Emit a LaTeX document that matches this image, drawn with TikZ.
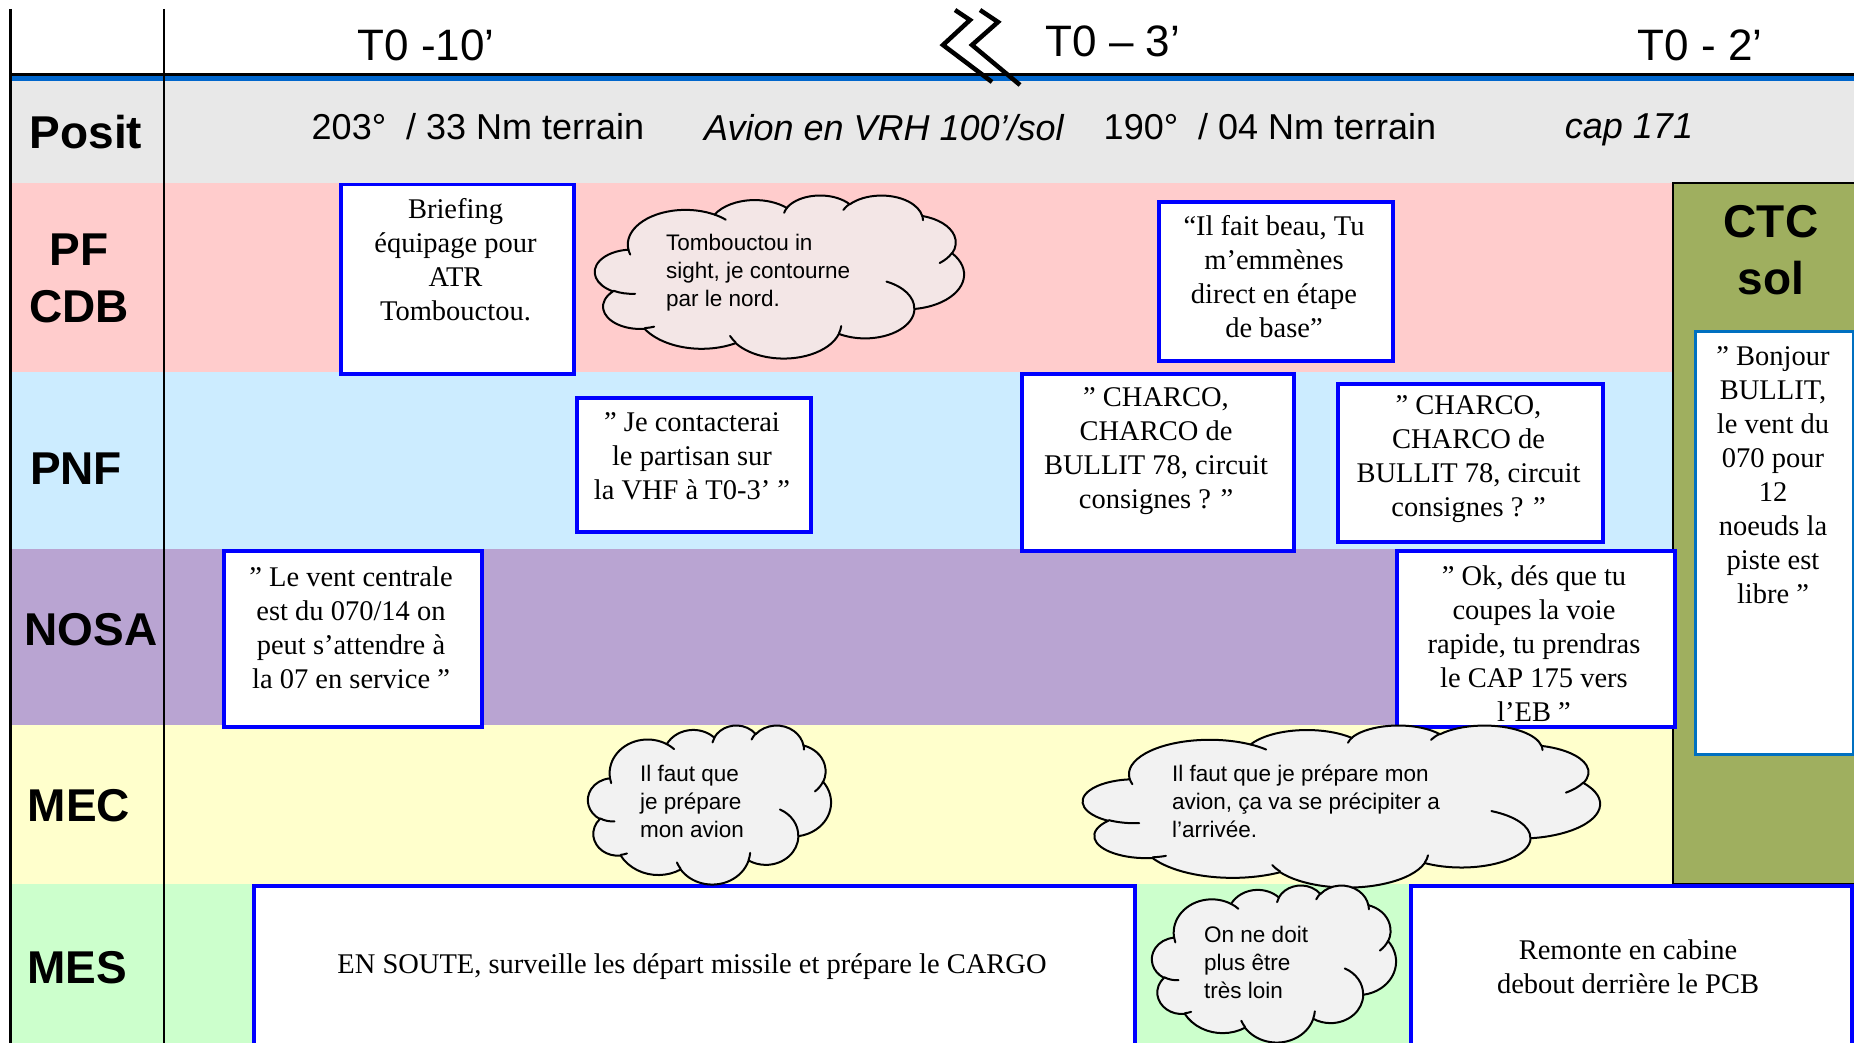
\documentclass[tikz,border=0pt]{standalone}
\usepackage{fontspec}
\setmainfont{Liberation Serif}
\newfontfamily\arial{Liberation Sans}
\definecolor{cPos}{RGB}{232,232,232}
\definecolor{cPF}{RGB}{255,204,204}
\definecolor{cPNF}{RGB}{204,236,255}
\definecolor{cNOSA}{RGB}{185,164,210}
\definecolor{cMEC}{RGB}{255,255,204}
\definecolor{cMES}{RGB}{204,255,204}
\definecolor{cCTC}{RGB}{159,175,95}
\definecolor{cBox}{RGB}{0,0,255}
\definecolor{cBox2}{RGB}{0,112,192}
\definecolor{cHdr}{RGB}{0,102,204}
\definecolor{cCloudP}{RGB}{243,230,230}
\definecolor{cCloudG}{RGB}{242,242,242}
% PowerPoint-like cloud: #1 left, #2 top, #3 width, #4 height, #5 fill, #6 name
\newcommand{\pptcloud}[6]{%
 \begin{scope}[shift={(#1,#2)}, xscale=#3/432, yscale=#4/432]
 \filldraw[fill=#5, draw=black, line width=2, line join=round] (39,143.7)
   arc[start angle=-187.746, delta angle=128.08, x radius=67.53, y radius=91.90]
   arc[start angle=-152.03, delta angle=106.55, x radius=53.33, y radius=72.67]
   arc[start angle=-153.48, delta angle=116.16, x radius=43.65, y radius=59.45]
   arc[start angle=-139.70, delta angle=129.49, x radius=48.57, y radius=65.95]
   arc[start angle=-74.76, delta angle=97.97, x radius=53.33, y radius=72.73]
   arc[start angle=-37.53, delta angle=119.39, x radius=67.75, y radius=92.20]
   arc[start angle=0.46, delta angle=121.51, x radius=57.85, y radius=78.67]
   arc[start angle=16.84, delta angle=129.41, x radius=67.52, y radius=92.15]
   arc[start angle=59.03, delta angle=91.14, x radius=77.20, y radius=105.43]
   arc[start angle=-276.70, delta angle=139.79, x radius=43.60, y radius=59.18]
   arc[start angle=-239.62, delta angle=143.73, x radius=43.45, y radius=59.45]
   -- cycle;
 \draw[line width=2, line cap=round]
   (46.93,261.77) arc[start angle=85.54, delta angle=34.84, x radius=43.45, y radius=59.45]
   (69.28,348.99) arc[start angle=68.24, delta angle=15.06, x radius=43.60, y radius=59.18]
   (164.78,390.90) arc[start angle=146.24, delta angle=12.24, x radius=67.52, y radius=92.15]
   (288.27,347.51) arc[start angle=4.737, delta angle=12.10, x radius=67.52, y radius=92.15]
   (341.29,229.54) arc[start angle=-64.02, delta angle=64.48, x radius=57.85, y radius=78.67]
   (417.98,153.54) arc[start angle=23.21, delta angle=26.44, x radius=53.33, y radius=72.73]
   (383.24,54.26) arc[start angle=-10.21, delta angle=11.03, x radius=48.57, y radius=65.95]
   (290.78,39.52) arc[start angle=-156.27, delta angle=16.57, x radius=48.57, y radius=65.95]
   (221.41,47.20) arc[start angle=-167.73, delta angle=14.25, x radius=43.65, y radius=59.45]
   (140.00,51.92) arc[start angle=-59.67, delta angle=13.93, x radius=67.53, y radius=91.90]
   (41.27,157.89) arc[start angle=163.19, delta angle=9.06, x radius=67.53, y radius=91.90];
 \coordinate (#6) at (216,216);
 \end{scope}}
\begin{document}
\begin{tikzpicture}[x=1pt,y=-1pt,
  rowlbl/.style={font=\arial\bfseries\fontsize{46}{57}\selectfont, align=center, inner sep=0},
  hdrtxt/.style={font=\arial\fontsize{44}{50}\selectfont, inner sep=0},
  postxt/.style={font=\arial\fontsize{36}{40}\selectfont, inner sep=0},
  positalic/.style={postxt, font=\arial\itshape\fontsize{36}{40}\selectfont},
  boxnode/.style={draw=cBox, line width=3.5, fill=white, anchor=north west, inner sep=0},
  btxt/.style={font=\fontsize{28.5}{34}\selectfont, align=center, inner sep=0},
  ctxt/.style={font=\arial\fontsize{22.5}{28}\selectfont, align=left, inner sep=0, anchor=west},
]
\useasboundingbox (0,0) rectangle (1854,1043);
\fill[white] (0,0) rectangle (1854,1043);
% rows
\fill[cPos] (9,80) rectangle (1854,183);
\fill[cPF] (9,183) rectangle (1854,372);
\fill[cPNF] (9,372) rectangle (1854,549);
\fill[cNOSA] (9,549) rectangle (1854,725);
\fill[cMEC] (9,725) rectangle (1854,884);
\fill[cMES] (9,884) rectangle (1854,1043);
% CTC column
\fill[cCTC] (1673,183) rectangle (1856,884);
\draw[line width=2.5] (1858,884) -- (1673,884) -- (1673,183) -- (1858,183);
% header rule
\draw[line width=3] (9,74.5) -- (1854,74.5);
\draw[cHdr, line width=5] (9,78.5) -- (1854,78.5);
% zigzag
\draw[line width=4.5, line join=miter] (955,10) -- (970,20) -- (943,45) -- (992,82);
\draw[line width=4.5, line join=miter] (980,10) -- (998,22) -- (972,45) -- (1020,85);
% header texts
\node[hdrtxt] (h1) at (426,45) {T0 -10’};
\node[hdrtxt] (h2) at (1113,41) {T0 – 3’};
\node[hdrtxt] (h3) at (1700,45) {T0 - 2’};
% posit row
\node[postxt] (p1) at (478,127) {203°\ \ / 33 Nm terrain};
\node[positalic] (p2) at (884,128) {Avion en VRH 100’/sol};
\node[postxt] (p3) at (1270,127) {190°\ \ / 04 Nm terrain};
\node[positalic] (p4) at (1629,130) {cap 171};
% row labels
\node[rowlbl] (lPos) at (86,132) {Posit};
\node[rowlbl] (lPF) at (79,278) {PF\\CDB};
\node[rowlbl] (lPNF) at (76,469) {PNF};
\node[rowlbl] (lNOSA) at (91,630) {NOSA};
\node[rowlbl] (lMEC) at (79,806) {MEC};
\node[rowlbl] (lMES) at (77,968) {MES};
\node[rowlbl] (lCTC) at (1771,250) {CTC\\sol};
% boxes
\node[boxnode, minimum width=233, minimum height=189] (bBrief) at (339,183) {};
\node[boxnode, minimum width=234, minimum height=159] (bBeau) at (1157,200) {};
\node[boxnode, draw=cBox2, line width=3, minimum width=158, minimum height=423] (bBonjour) at (1694,330) {};
\node[boxnode, minimum width=234, minimum height=134] (bContact) at (575,396) {};
\node[boxnode, minimum width=272, minimum height=177] (bCharco1) at (1020,372) {};
\node[boxnode, minimum width=265, minimum height=158] (bCharco2) at (1336,382) {};
\node[boxnode, minimum width=258, minimum height=176] (bVent) at (222,549) {};
\node[boxnode, minimum width=278, minimum height=176] (bOk) at (1395,549) {};
\node[boxnode, minimum width=881, minimum height=180] (bSoute) at (252,884) {};
\node[boxnode, minimum width=441, minimum height=180] (bRemonte) at (1409,884) {};
% box texts
\node[btxt] (tBrief) at (455.5,260) {Briefing\\équipage pour\\ATR\\Tombouctou.};
\node[btxt] (tBeau) at (1274,277) {“Il fait beau, Tu\\m’emmènes\\direct en étape\\de base”};
\node[btxt] (tBonjour) at (1773,475.5) {” Bonjour\\BULLIT,\\le vent du\\070 pour\\12\\noeuds la\\piste est\\libre ”};
\node[btxt] (tContact) at (692,456.5) {” Je contacterai\\le partisan sur\\la VHF à T0-3’ ”};
\node[btxt] (tCharco1) at (1156,451.5) {” CHARCO,\\CHARCO de\\BULLIT 78, circuit\\consignes ? ”};
\node[btxt] (tCharco2) at (1468.5,459.5) {” CHARCO,\\CHARCO de\\BULLIT 78, circuit\\consignes ? ”};
\node[btxt] (tVent) at (351,627.5) {” Le vent centrale\\est du 070/14 on\\peut s’attendre à\\la 07 en service ”};
\node[btxt] (tOk) at (1534,644) {” Ok, dés que tu\\coupes la voie\\rapide, tu prendras\\le CAP 175 vers\\l’EB ”};
\node[btxt] (tSoute) at (692,967) {EN SOUTE, surveille les départ missile et prépare le CARGO};
\node[btxt] (tRemonte) at (1628,967) {Remonte en cabine\\debout derrière le PCB};
% clouds
\pptcloud{595}{195}{369}{163}{cCloudP}{cl1}
\pptcloud{588}{725}{243}{159}{cCloudG}{cl2}
\pptcloud{1083}{725}{517}{162}{cCloudG}{cl3}
\pptcloud{1152}{885}{244}{157}{cCloudG}{cl4}
\node[ctxt] (ct1) at (666,272.5) {Tombouctou in\\sight, je contourne\\par le nord.};
\node[ctxt] (ct2) at (640,801) {Il faut que\\je prépare\\mon avion};
\node[ctxt] (ct3) at (1172,801) {Il faut que je prépare mon\\avion, ça va se précipiter a\\l’arrivée.};
\node[ctxt] (ct4) at (1204,962) {On ne doit\\plus être\\très loin};
% vertical rules
\draw[line width=2.5] (10.5,9) -- (10.5,1043);
\draw[line width=2.5] (164,9) -- (164,1043);
\end{tikzpicture}
\end{document}
